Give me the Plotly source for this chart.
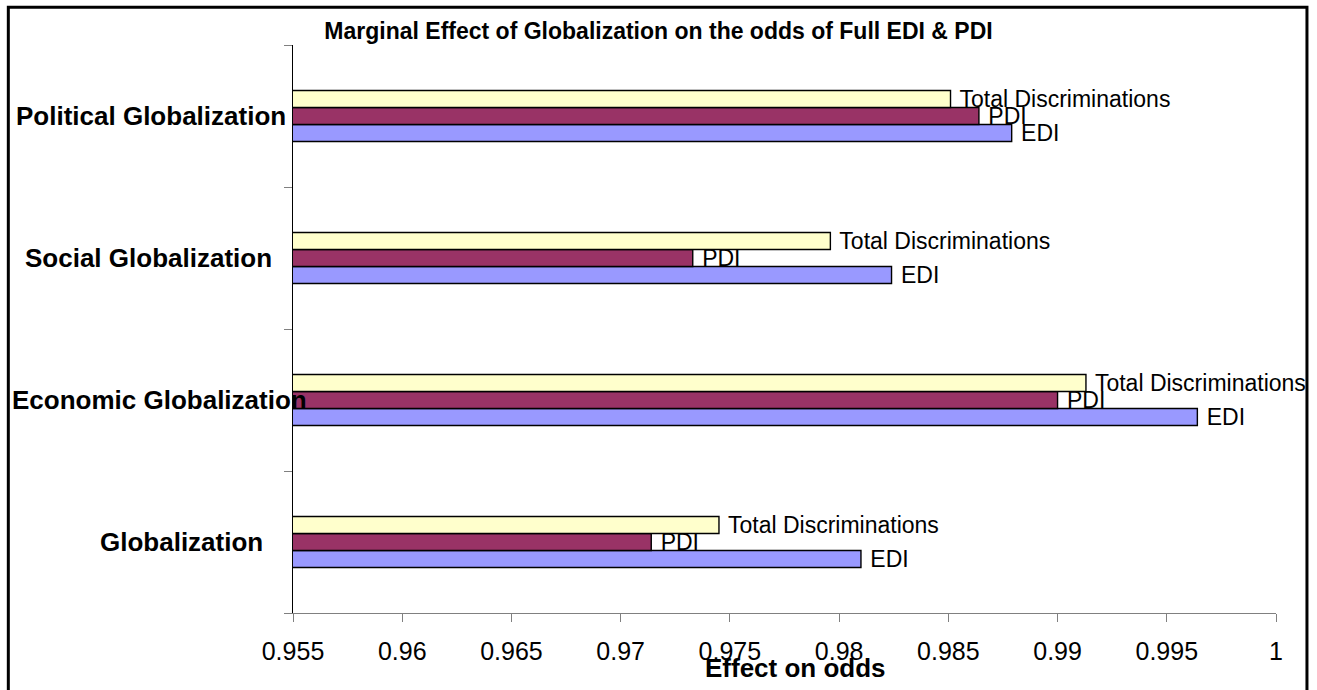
import plotly.graph_objects as go

# ---- data ----
categories = ["Globalization", "Economic Globalization", "Social Globalization", "Political Globalization"]
edi = [0.9810, 0.9964, 0.9824, 0.9879]
pdi = [0.9714, 0.9900, 0.9733, 0.9864]
total = [0.9745, 0.9913, 0.9796, 0.9851]
series_names = ["EDI", "PDI", "Total Discriminations"]
x_ticks = [0.955, 0.96, 0.965, 0.97, 0.975, 0.98, 0.985, 0.99, 0.995, 1.0]
x_tick_labels = ["0.955", "0.96", "0.965", "0.97", "0.975", "0.98", "0.985", "0.99", "0.995", "1"]
title_text = "Marginal Effect of Globalization on the odds of Full EDI & PDI"
x_title = "Effect on odds"

# ---- styling ----
FONT = "Arial, Liberation Sans, sans-serif"
colors = {"EDI": "#9999FF", "PDI": "#993366", "Total Discriminations": "#FFFFCC"}
# horizontal centre (in paper units) for each category label
label_x = {
    "Globalization": -0.1139,
    "Economic Globalization": -0.1363,
    "Social Globalization": -0.147,
    "Political Globalization": -0.1445,
}

fig = go.Figure()
for name, vals in zip(series_names, [edi, pdi, total]):
    fig.add_trace(go.Bar(
        y=categories, x=vals, orientation="h", name=name,
        marker=dict(color=colors[name], line=dict(color="black", width=1.4)),
        text=[" " + name] * len(vals), textposition="outside",
        textfont=dict(family=FONT, size=23, color="black"),
        constraintext="none", textangle=0, cliponaxis=False,
    ))

annotations = []
for c in categories:
    annotations.append(dict(
        x=label_x[c], xref="paper", y=c, yref="y", text="<b>%s</b>" % c,
        showarrow=False, xanchor="center", yanchor="middle",
        font=dict(family=FONT, size=26, color="black"),
    ))
annotations.append(dict(
    x=0.511, xref="paper", y=0, yref="paper", yshift=-55, text="<b>%s</b>" % x_title,
    showarrow=False, xanchor="center", yanchor="middle",
    font=dict(family=FONT, size=26, color="black"),
))

fig.update_layout(
    width=1317, height=690,
    margin=dict(l=293, r=41, t=45, b=77),
    paper_bgcolor="white", plot_bgcolor="white",
    barmode="group", bargap=0.64, bargroupgap=0,
    showlegend=False,
    title=dict(text="<b>%s</b>" % title_text, x=0.5, xref="container", xanchor="center",
               y=1 - 31 / 690, yref="container", yanchor="middle",
               font=dict(family=FONT, size=23, color="black")),
    annotations=annotations,
    shapes=[dict(type="rect", xref="paper", yref="paper",
                 x0=-0.2896, x1=1.0315, y0=-0.1444, y1=1.0664,
                 line=dict(color="black", width=3), fillcolor="rgba(0,0,0,0)", layer="above")],
)
fig.update_xaxes(
    range=[0.955, 1.0], tickvals=x_ticks, ticktext=x_tick_labels,
    showline=True, linecolor="#808080", linewidth=1,
    ticks="outside", ticklen=8, tickcolor="#808080", tickwidth=1,
    showgrid=False, zeroline=False, ticklabelstandoff=8,
    tickfont=dict(family=FONT, size=25, color="black"),
)
fig.update_yaxes(
    categoryorder="array", categoryarray=categories,
    showline=True, linecolor="black", linewidth=1,
    ticks="outside", ticklen=8, tickcolor="#808080", tickson="boundaries",
    showticklabels=False, showgrid=False, zeroline=False,
)

fig.write_html("out.html", config={"displayModeBar": False},
               post_script="document.body.style.margin='0';")
